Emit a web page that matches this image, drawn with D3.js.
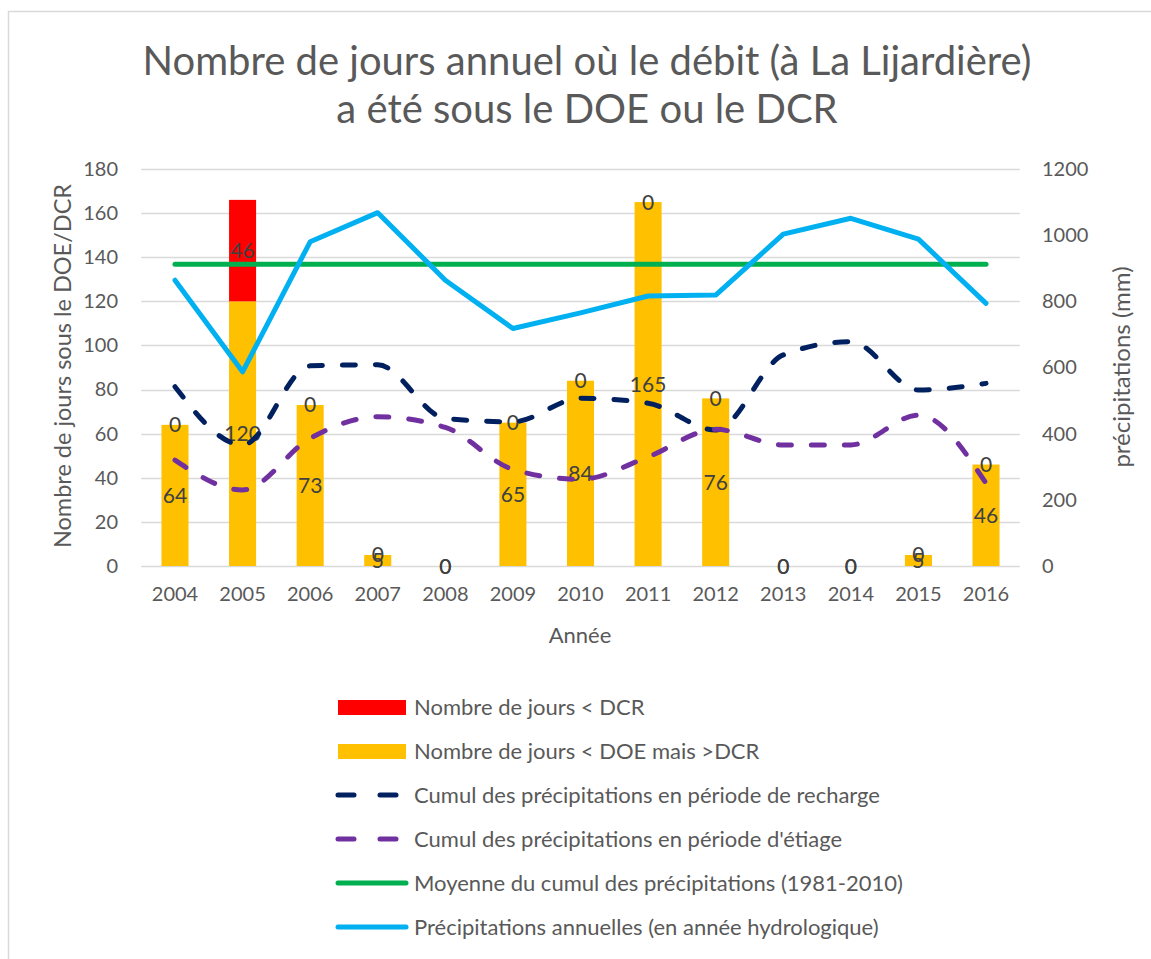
<!DOCTYPE html>
<html>
<head>
<meta charset="utf-8">
<script src="https://cdn.jsdelivr.net/npm/d3@7"></script>
<style>
  body { margin: 0; background: #fff; }
  text { font-family: Lato, "Open Sans", sans-serif; }
</style>
</head>
<body>
<svg id="chart" width="1151" height="959"></svg>
<script>
(function () {
    'use strict';

    // data
    var years = ['2004', '2005', '2006', '2007', '2008', '2009', '2010', '2011', '2012', '2013', '2014', '2015', '2016'];
    var joursDOE = [64, 120, 73, 5, 0, 65, 84, 165, 76, 0, 0, 5, 46];
    var joursDCR = [0, 46, 0, 0, 0, 0, 0, 0, 0, 0, 0, 0, 0];
    var cumulRecharge = [542, 366, 605, 608, 446, 436, 507, 492, 411, 638, 678, 532, 552];
    var cumulEtiage = [320, 230, 386, 451, 419, 292, 262, 330, 413, 366, 366, 456, 250];
    var moyenne = [912, 912, 912, 912, 912, 912, 912, 912, 912, 912, 912, 912, 912];
    var precipAnnuelles = [864, 587, 980, 1068, 864, 718, 765, 816, 819, 1003, 1051, 988, 794];
    var leftTicks = [0, 20, 40, 60, 80, 100, 120, 140, 160, 180];
    var rightTicks = [0, 200, 400, 600, 800, 1000, 1200];

    var svg = d3.select('#chart');
    var grey = '#595959';

    // frame
    svg.append('rect')
        .attr('x', 8.5).attr('y', 11.5)
        .attr('width', 1160).attr('height', 960)
        .attr('fill', 'none')
        .attr('stroke', '#d9d9d9')
        .attr('stroke-width', 1.5);

    var x = d3.scaleBand().domain(years).range([141.2, 1019.8])
        .paddingInner(0.6).paddingOuter(0.3);
    var yL = d3.scaleLinear().domain([0, 180]).range([566, 169]);
    var yR = d3.scaleLinear().domain([0, 1200]).range([566, 169]);
    var cx = function (d, i) { return x(years[i]) + x.bandwidth() / 2; };

    // title
    var title = svg.append('text')
        .attr('x', 587).attr('text-anchor', 'middle')
        .attr('font-size', 40).attr('fill', grey);
    title.append('tspan').attr('x', 587).attr('y', 75)
        .text('Nombre de jours annuel où le débit (à La Lijardière)');
    title.append('tspan').attr('x', 587).attr('y', 123)
        .text('a été sous le DOE ou le DCR');

    // gridlines
    svg.append('g').selectAll('line')
        .data(leftTicks)
        .enter().append('line')
        .attr('x1', 141.2).attr('x2', 1019.8)
        .attr('y1', function (d) { return Math.round(yL(d)) + 0.5; })
        .attr('y2', function (d) { return Math.round(yL(d)) + 0.5; })
        .attr('stroke', '#d9d9d9')
        .attr('stroke-width', 1.3);

    // left axis
    var gl = svg.append('g').attr('transform', 'translate(141,0)')
        .call(d3.axisLeft(yL).tickValues(leftTicks).tickSize(0).tickPadding(23));
    gl.select('.domain').remove();
    gl.selectAll('text').attr('font-size', 20).attr('fill', grey)
        .style('font-family', 'Lato, sans-serif');

    // right axis
    var gr = svg.append('g').attr('transform', 'translate(1020,0)')
        .call(d3.axisRight(yR).tickValues(rightTicks).tickFormat(d3.format('d'))
            .tickSize(0).tickPadding(22));
    gr.select('.domain').remove();
    gr.selectAll('text').attr('font-size', 20).attr('fill', grey)
        .style('font-family', 'Lato, sans-serif');

    // x axis labels
    var gx = svg.append('g').attr('transform', 'translate(0,566)')
        .call(d3.axisBottom(x).tickSize(0).tickPadding(21));
    gx.select('.domain').remove();
    gx.selectAll('text').attr('font-size', 20).attr('fill', grey)
        .style('font-family', 'Lato, sans-serif');

    // axis titles
    svg.append('text')
        .attr('transform', 'translate(71,366) rotate(-90)')
        .attr('text-anchor', 'middle')
        .attr('font-size', 23.5).attr('fill', grey)
        .text('Nombre de jours sous le DOE/DCR');
    svg.append('text')
        .attr('transform', 'translate(1130,367) rotate(-90)')
        .attr('text-anchor', 'middle')
        .attr('font-size', 24).attr('fill', grey)
        .text('précipitations (mm)');
    svg.append('text')
        .attr('x', 580).attr('y', 643)
        .attr('text-anchor', 'middle')
        .attr('font-size', 22).attr('fill', grey)
        .text('Année');

    // bars
    svg.append('g').selectAll('rect')
        .data(joursDOE)
        .enter().append('rect')
        .attr('x', function (d, i) { return x(years[i]); })
        .attr('width', x.bandwidth())
        .attr('y', function (d) { return yL(d); })
        .attr('height', function (d) { return yL(0) - yL(d); })
        .attr('fill', '#ffc000');
    svg.append('g').selectAll('rect')
        .data(joursDCR)
        .enter().append('rect')
        .attr('x', function (d, i) { return x(years[i]); })
        .attr('width', x.bandwidth())
        .attr('y', function (d, i) { return yL(d + joursDOE[i]); })
        .attr('height', function (d) { return yL(0) - yL(d); })
        .attr('fill', '#ff0000');

    // data labels
    var labels = svg.append('g')
        .attr('font-size', 21).attr('fill', '#404040')
        .attr('text-anchor', 'middle');
    labels.selectAll('text.doe')
        .data(joursDOE)
        .enter().append('text')
        .attr('class', 'doe')
        .attr('x', cx)
        .attr('y', function (d) { return yL(d / 2) + 7.5; })
        .text(function (d) { return d; });
    labels.selectAll('text.dcr')
        .data(joursDCR)
        .enter().append('text')
        .attr('class', 'dcr')
        .attr('x', cx)
        .attr('y', function (d, i) { return yL(joursDOE[i] + d / 2) + 7.5; })
        .text(function (d) { return d; });

    // lines
    var smooth = d3.line().x(cx).y(function (d) { return yR(d); })
        .curve(d3.curveMonotoneX);
    var straight = d3.line().x(cx).y(function (d) { return yR(d); });

    var series = [
        { data: cumulRecharge, color: '#002060', dash: '13,20', line: smooth },
        { data: cumulEtiage, color: '#7030a0', dash: '13,20', line: smooth },
        { data: moyenne, color: '#00b050', dash: null, line: straight },
        { data: precipAnnuelles, color: '#00b0f0', dash: null, line: straight }
    ];
    svg.append('g').selectAll('path')
        .data(series)
        .enter().append('path')
        .attr('d', function (s) { return s.line(s.data); })
        .attr('fill', 'none')
        .attr('stroke', function (s) { return s.color; })
        .attr('stroke-width', 5)
        .attr('stroke-linecap', 'round')
        .attr('stroke-linejoin', 'round')
        .attr('stroke-dasharray', function (s) { return s.dash; });

    // legend
    var legendItems = [
        { label: 'Nombre de jours < DCR', color: '#ff0000', type: 'rect' },
        { label: 'Nombre de jours < DOE mais >DCR', color: '#ffc000', type: 'rect' },
        { label: 'Cumul des précipitations en période de recharge', color: '#002060', type: 'dash' },
        { label: "Cumul des précipitations en période d'étiage", color: '#7030a0', type: 'dash' },
        { label: 'Moyenne du cumul des précipitations (1981-2010)', color: '#00b050', type: 'line' },
        { label: 'Précipitations annuelles (en année hydrologique)', color: '#00b0f0', type: 'line' }
    ];
    var lg = svg.append('g').selectAll('g')
        .data(legendItems)
        .enter().append('g')
        .attr('transform', function (d, i) { return 'translate(0,' + (707 + i * 44) + ')'; });
    lg.filter(function (d) { return d.type === 'rect'; })
        .append('rect')
        .attr('x', 338).attr('y', -7).attr('width', 68).attr('height', 15)
        .attr('fill', function (d) { return d.color; });
    lg.filter(function (d) { return d.type !== 'rect'; })
        .append('line')
        .attr('x1', 338).attr('x2', 406).attr('y1', 0).attr('y2', 0)
        .attr('stroke', function (d) { return d.color; })
        .attr('stroke-width', 5)
        .attr('stroke-linecap', 'round')
        .attr('stroke-dasharray', function (d) { return d.type === 'dash' ? '16,26' : null; });
    lg.append('text')
        .attr('x', 414).attr('y', 7.5)
        .attr('font-size', 22).attr('fill', grey)
        .text(function (d) { return d.label; });
})();
</script>
</body>
</html>
